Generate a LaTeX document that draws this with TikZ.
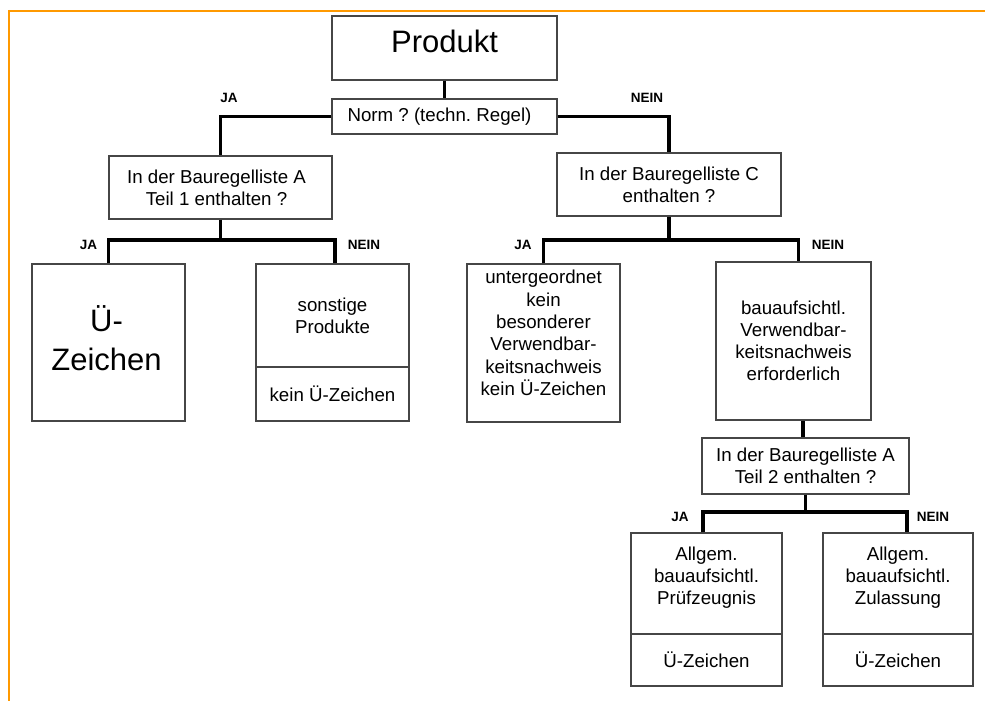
\documentclass[tikz,border=0pt]{standalone}
\usepackage{fontspec}
\setmainfont{Liberation Sans}
\definecolor{frameorange}{RGB}{255,153,0}
\definecolor{boxline}{RGB}{70,70,70}
\frenchspacing
\begin{document}
\frenchspacing
\begin{tikzpicture}[x=1pt,y=-1pt,
  box/.style={draw=boxline, line width=1.1pt, rectangle, inner sep=0pt, align=center,
              font=\fontsize{18.7}{22}\selectfont},
  txt/.style={inner sep=0pt, align=center, font=\fontsize{18.7}{22.3}\selectfont},
  big/.style={font=\fontsize{31}{39}\selectfont},
  conn/.style={line width=3.6pt, black},
  yn/.style={inner sep=0pt, font=\bfseries\fontsize{13.5}{15}\selectfont},
  frameline/.style={draw=frameorange, line width=2pt}]
\useasboundingbox (0,0) rectangle (985,701);
% frame
\coordinate (fa) at (8,11);
\coordinate (fb) at (985,11);
\coordinate (fc) at (9,10);
\coordinate (fd) at (9,701);
\draw[frameline] (fa) -- (fb);
\draw[frameline] (fc) -- (fd);

% boxes
\node[box, big, minimum width=225pt, minimum height=64pt, text depth=13pt] (prod) at (444.5,48) {Produkt};
\node[box, minimum width=225pt, minimum height=35pt] (norm) at (444.5,116.5) {};
\node[txt] (normT) at ([xshift=-5pt]norm.center) {Norm ? (techn. Regel)};
\node[box, minimum width=223pt, minimum height=63pt] (a1) at (220.5,187.5) {};
\node[txt] (a1T) at ([xshift=-4pt]a1.center) {In der Bauregelliste A\\Teil 1 enthalten ?};
\node[box, minimum width=224pt, minimum height=63pt] (c) at (669,184.5) {In der Bauregelliste C\\enthalten ?};
\node[box, minimum width=153pt, minimum height=157pt] (ue) at (108.5,342.5) {};
\node[txt, big] (ueT) at ([xshift=-2pt,yshift=4pt]ue.center) {Ü-\\Zeichen};
\node[box, minimum width=153pt, minimum height=103pt] (sonstU) at (332.5,315.5) {sonstige\\Produkte};
\node[box, minimum width=153pt, minimum height=54pt] (sonstL) at (332.5,394) {kein Ü-Zeichen};
\node[box, minimum width=153pt, minimum height=158pt] (unt) at (543.5,343) {};
\node[txt] (untT) at ([yshift=10pt]unt.center) {untergeordnet\\kein\\besonderer\\Verwendbar-\\keitsnachweis\\kein Ü-Zeichen};
\node[box, minimum width=155pt, minimum height=158pt] (bau) at (793.5,341) {bauaufsichtl.\\Verwendbar-\\keitsnachweis\\erforderlich};
\node[box, minimum width=207pt, minimum height=56pt] (a2) at (805.5,466) {In der Bauregelliste A\\Teil 2 enthalten ?};
\node[box, minimum width=151pt, minimum height=101pt] (allgLU) at (706.5,583.5) {};
\node[txt] (allgLT) at ([yshift=6pt]allgLU.center) {Allgem.\\bauaufsichtl.\\Prüfzeugnis};
\node[box, minimum width=151pt, minimum height=52pt] (allgLL) at (706.5,660) {Ü-Zeichen};
\node[box, minimum width=150pt, minimum height=101pt] (allgRU) at (898,583.5) {};
\node[txt] (allgRT) at ([yshift=6pt]allgRU.center) {Allgem.\\bauaufsichtl.\\Zulassung};
\node[box, minimum width=150pt, minimum height=52pt] (allgRL) at (898,660) {Ü-Zeichen};

% junction levels
\coordinate (j1) at (0,240);
\coordinate (j3) at (0,512);

% connectors
\draw[conn] (prod.south) -- (norm.north);
\draw[conn] (norm.west) -| (a1.north);
\draw[conn] (norm.east) -| (c.north);
\draw[conn] (a1.south) -- (a1.south |- j1);
\draw[conn] (ue.north) -- (ue.north |- j1) -- ([xshift=2.5pt]sonstU.north |- j1) -- ([xshift=2.5pt]sonstU.north);
\draw[conn] (c.south) -- (c.south |- j1);
\draw[conn] (unt.north) -- (unt.north |- j1) -- ([xshift=5pt]bau.north |- j1) -- ([xshift=5pt]bau.north);
\draw[conn] ([xshift=-2.5pt]a2.north) -- ([xshift=-2.5pt]a2.north |- bau.south);
\draw[conn] (a2.south) -- (a2.south |- j3);
\draw[conn] ([xshift=-3.5pt]allgLU.north) -- ([xshift=-3.5pt]allgLU.north |- j3) -- ([xshift=9pt]allgRU.north |- j3) -- ([xshift=9pt]allgRU.north);

% labels
\node[yn] (l1) at (229,98) {JA};
\node[yn] (l2) at (647,98) {NEIN};
\node[yn] (l3) at (88.5,245) {JA};
\node[yn] (l4) at (364,245) {NEIN};
\node[yn] (l5) at (523,245) {JA};
\node[yn] (l6) at (828,245) {NEIN};
\node[yn] (l7) at (680,517) {JA};
\node[yn] (l8) at (933,517) {NEIN};
\end{tikzpicture}
\end{document}
